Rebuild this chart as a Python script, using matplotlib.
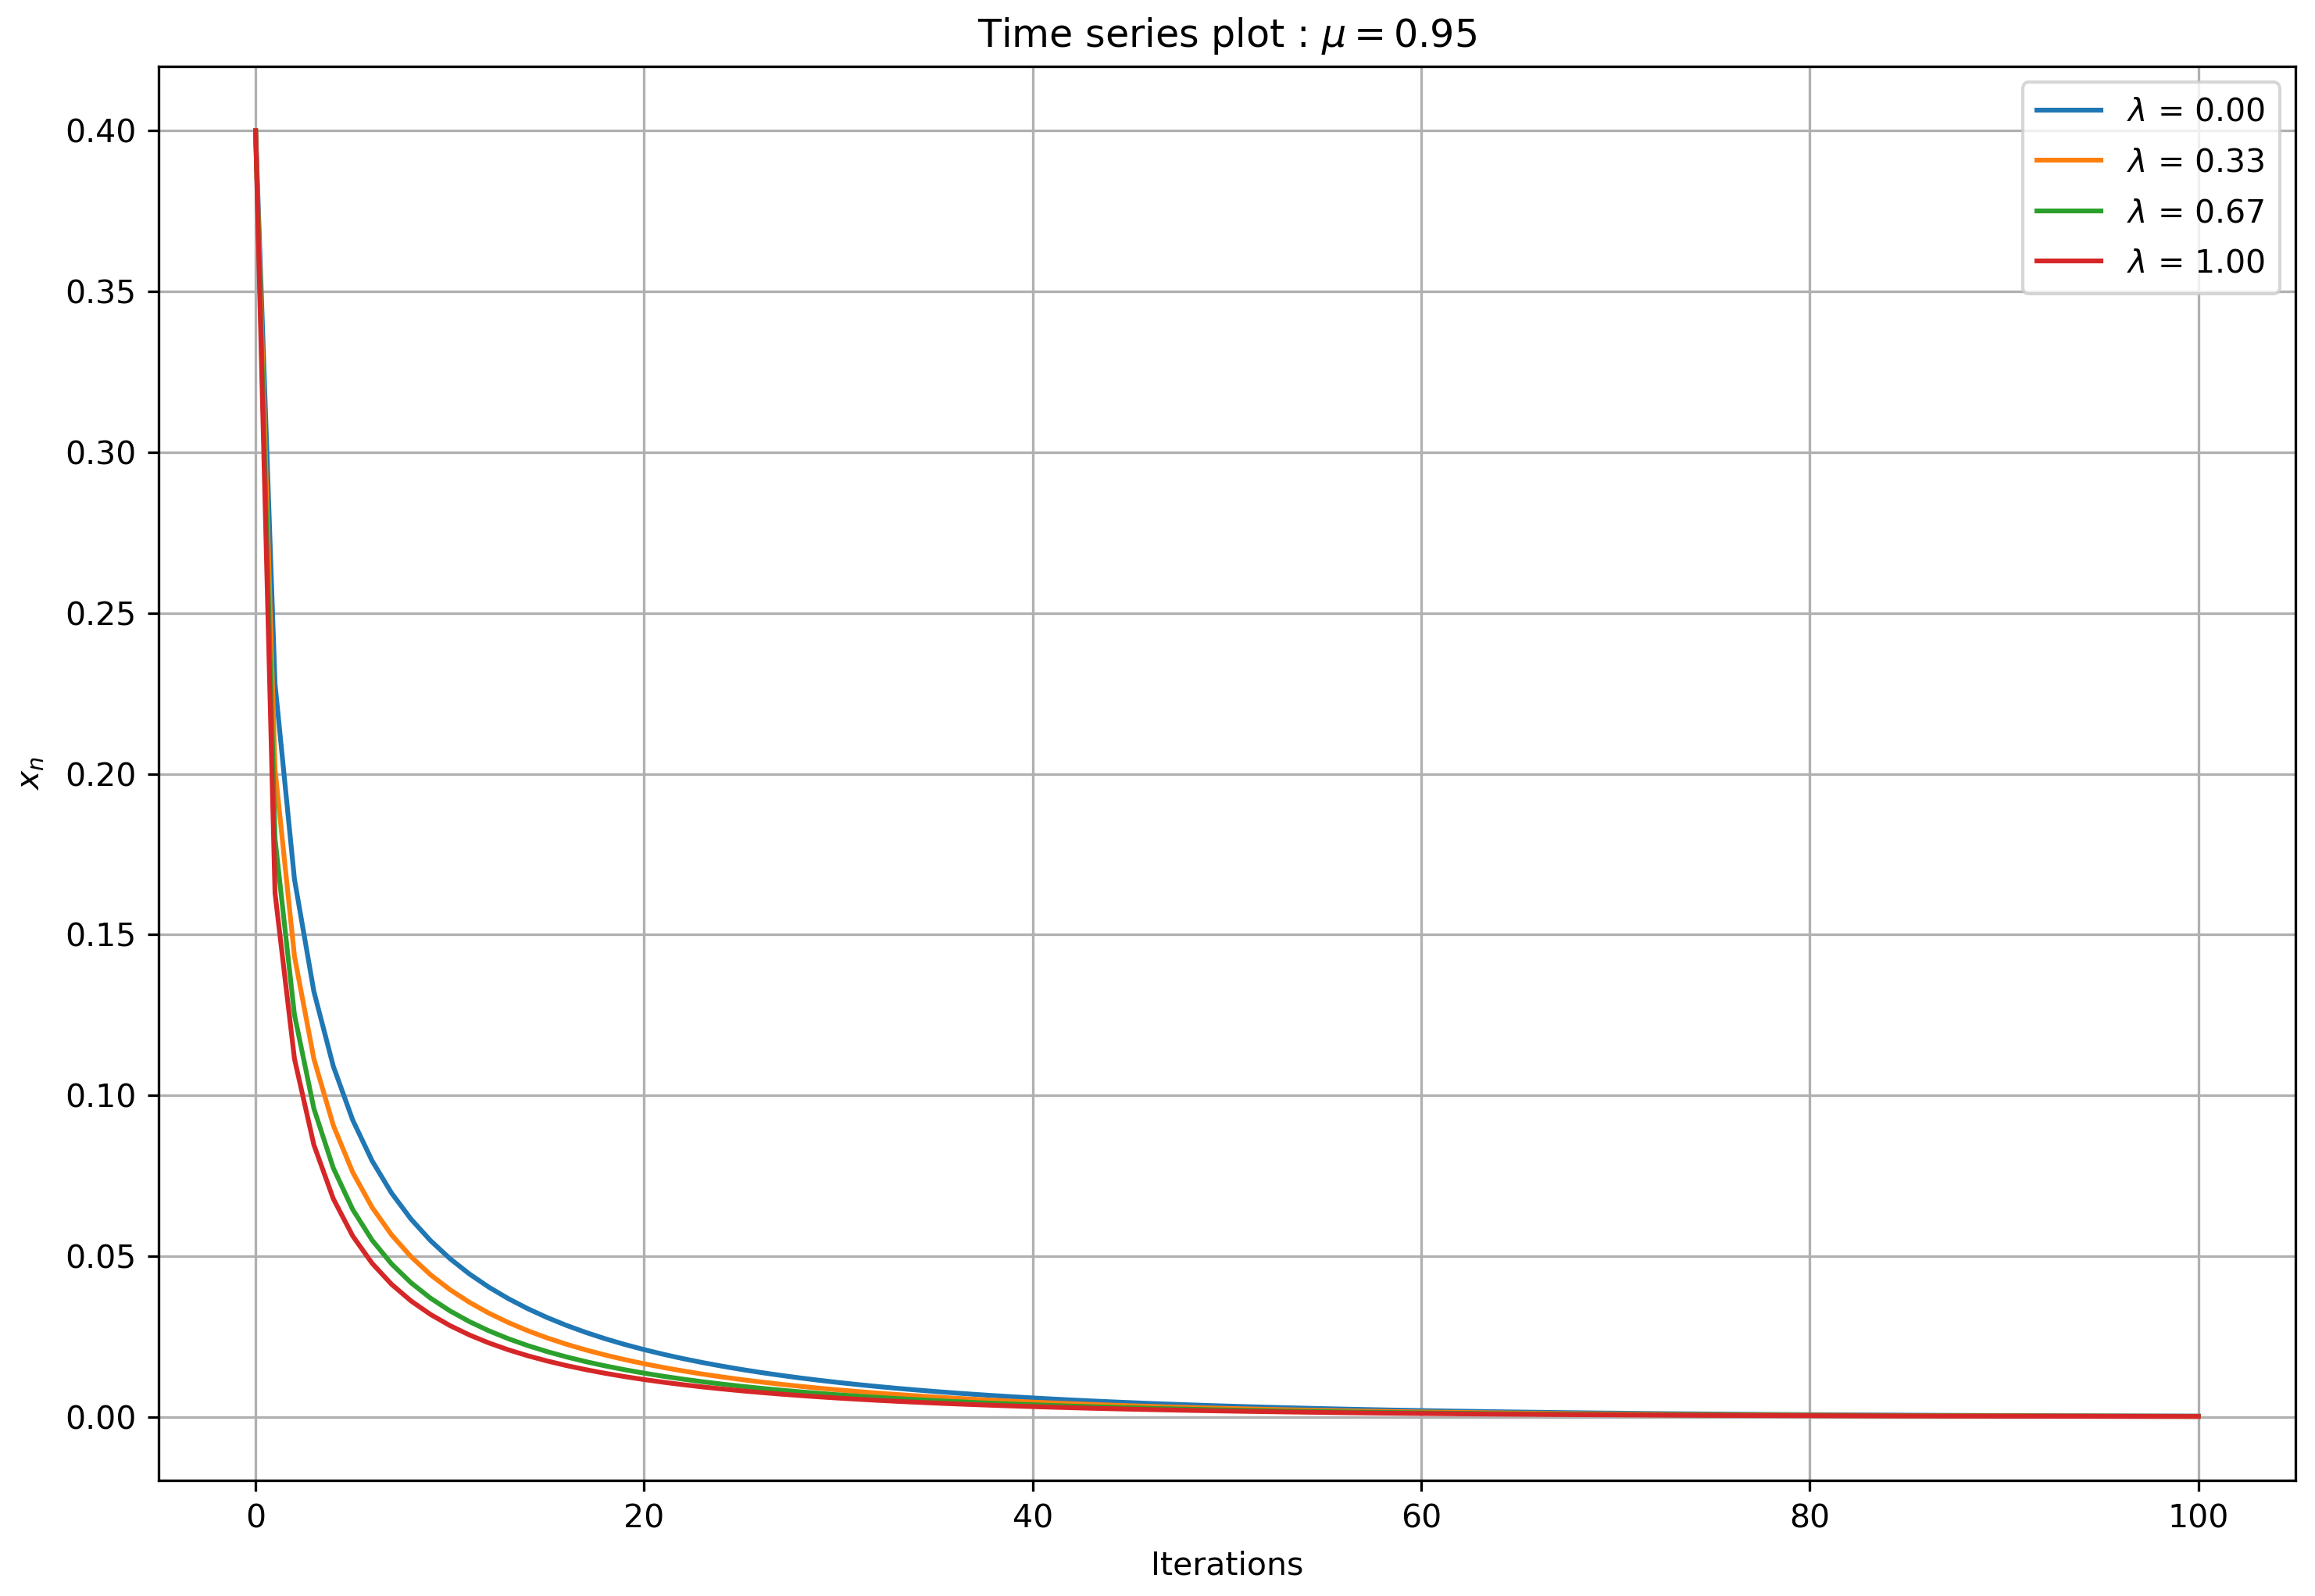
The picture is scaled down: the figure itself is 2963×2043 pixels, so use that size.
import numpy as np
import matplotlib
matplotlib.use("Agg")
import matplotlib.pyplot as plt

mu = 0.95
lambdas = [0.00, 0.33, 0.67, 1.00]

series_l000 = [
    0.4, 0.228, 0.167215, 0.132291, 0.109051, 0.092301, 0.079593, 0.069595, 0.061514, 0.054844,
    0.049244, 0.044478, 0.040375, 0.036808, 0.033680, 0.030919, 0.028465, 0.026272, 0.024303, 0.022526,
    0.020918, 0.019456, 0.018124, 0.016906, 0.015789, 0.014763, 0.013818, 0.012946, 0.012139, 0.011392,
    0.010699, 0.010055, 0.009456, 0.008898, 0.008378, 0.007893, 0.007439, 0.007014, 0.006617, 0.006245,
    0.005896, 0.005568, 0.005260, 0.004971, 0.004699, 0.004443, 0.004202, 0.003975, 0.003761, 0.003559,
    0.003369, 0.003190, 0.003021, 0.002861, 0.002710, 0.002568, 0.002433, 0.002306, 0.002186, 0.002072,
    0.001964, 0.001862, 0.001766, 0.001675, 0.001589, 0.001507, 0.001429, 0.001356, 0.001286, 0.001220,
    0.001158, 0.001099, 0.001043, 0.000990, 0.000940, 0.000892, 0.000847, 0.000804, 0.000763, 0.000724,
    0.000687, 0.000652, 0.000619, 0.000588, 0.000558, 0.000530, 0.000503, 0.000478, 0.000454, 0.000431,
    0.000409, 0.000389, 0.000369, 0.000351, 0.000333, 0.000316, 0.000300, 0.000285, 0.000271, 0.000257,
    0.000244,
]

series_l033 = [
    0.4, 0.201413, 0.143281, 0.111349, 0.090671, 0.076052, 0.065121, 0.056620, 0.049813, 0.044238,
    0.039589, 0.035655, 0.032285, 0.029368, 0.026821, 0.024579, 0.022593, 0.020824, 0.019239, 0.017813,
    0.016524, 0.015355, 0.014291, 0.013320, 0.012431, 0.011615, 0.010864, 0.010172, 0.009533, 0.008942,
    0.008394, 0.007886, 0.007413, 0.006973, 0.006563, 0.006180, 0.005823, 0.005489, 0.005177, 0.004884,
    0.004610, 0.004352, 0.004111, 0.003884, 0.003671, 0.003470, 0.003281, 0.003103, 0.002936, 0.002778,
    0.002629, 0.002489, 0.002357, 0.002232, 0.002114, 0.002003, 0.001898, 0.001799, 0.001705, 0.001616,
    0.001532, 0.001452, 0.001377, 0.001306, 0.001239, 0.001175, 0.001115, 0.001058, 0.001004, 0.000953,
    0.000904, 0.000858, 0.000814, 0.000772, 0.000733, 0.000695, 0.000660, 0.000626, 0.000594, 0.000564,
    0.000535, 0.000508, 0.000482, 0.000457, 0.000434, 0.000412, 0.000391, 0.000371, 0.000352, 0.000334,
    0.000317, 0.000301, 0.000286, 0.000272, 0.000258, 0.000245, 0.000233, 0.000221, 0.000210, 0.000199,
    0.000189,
]

series_l067 = [
    0.4, 0.179811, 0.125041, 0.095902, 0.077397, 0.064492, 0.054942, 0.047576, 0.041717, 0.036946,
    0.032986, 0.029648, 0.026799, 0.024340, 0.022199, 0.020319, 0.018657, 0.017179, 0.015857, 0.014670,
    0.013598, 0.012627, 0.011745, 0.010940, 0.010205, 0.009531, 0.008911, 0.008340, 0.007813, 0.007326,
    0.006875, 0.006457, 0.006068, 0.005706, 0.005369, 0.005055, 0.004762, 0.004488, 0.004232, 0.003992,
    0.003767, 0.003556, 0.003358, 0.003172, 0.002998, 0.002834, 0.002680, 0.002535, 0.002398, 0.002269,
    0.002147, 0.002032, 0.001924, 0.001822, 0.001726, 0.001635, 0.001549, 0.001468, 0.001391, 0.001318,
    0.001249, 0.001184, 0.001123, 0.001065, 0.001010, 0.000958, 0.000909, 0.000862, 0.000818, 0.000776,
    0.000736, 0.000698, 0.000662, 0.000628, 0.000596, 0.000565, 0.000536, 0.000508, 0.000481, 0.000456,
    0.000433, 0.000411, 0.000390, 0.000370, 0.000351, 0.000333, 0.000316, 0.000300, 0.000285, 0.000271,
    0.000257, 0.000244, 0.000232, 0.000220, 0.000209, 0.000199, 0.000189, 0.000179, 0.000170, 0.000162,
    0.000154,
]

series_l100 = [
    0.4, 0.162857, 0.111380, 0.084603, 0.067834, 0.056255, 0.047750, 0.041228, 0.036065, 0.031876,
    0.028411, 0.025499, 0.023020, 0.020885, 0.019030, 0.017404, 0.015968, 0.014692, 0.013553, 0.012531,
    0.011610, 0.010776, 0.010019, 0.009330, 0.008700, 0.008122, 0.007591, 0.007103, 0.006653, 0.006237,
    0.005852, 0.005495, 0.005163, 0.004855, 0.004568, 0.004300, 0.004050, 0.003817, 0.003599, 0.003394,
    0.003203, 0.003023, 0.002855, 0.002697, 0.002548, 0.002408, 0.002277, 0.002153, 0.002037, 0.001927,
    0.001824, 0.001727, 0.001635, 0.001548, 0.001466, 0.001389, 0.001316, 0.001247, 0.001182, 0.001120,
    0.001062, 0.001007, 0.000955, 0.000906, 0.000859, 0.000815, 0.000773, 0.000733, 0.000695, 0.000659,
    0.000625, 0.000593, 0.000562, 0.000533, 0.000506, 0.000480, 0.000456, 0.000432, 0.000410, 0.000389,
    0.000369, 0.000350, 0.000332, 0.000315, 0.000299, 0.000284, 0.000270, 0.000256, 0.000243, 0.000231,
    0.000219, 0.000208, 0.000198, 0.000188, 0.000178, 0.000169, 0.000161, 0.000153, 0.000145, 0.000138,
    0.000131,
]

all_series = [series_l000, series_l033, series_l067, series_l100]
iterations = np.arange(len(series_l000))

DPI = 295
fig = plt.figure(figsize=(2963 / DPI, 2043 / DPI), dpi=DPI)
ax = fig.add_axes([0.06845, 0.0722, 0.92311, 0.8862])

for lam, ys in zip(lambdas, all_series):
    ax.plot(iterations, ys, label=rf"$\lambda$ = {lam:.2f}")

ax.set_title(rf"Time series plot : $\mu = {mu}$")
ax.set_xlabel("Iterations", labelpad=5)
ax.set_ylabel(r"$x_n$", labelpad=5.7)
ax.grid(True)
ax.legend(loc="upper right", labelspacing=0.6, borderpad=0.45)

fig.savefig("out.png", dpi=DPI)
